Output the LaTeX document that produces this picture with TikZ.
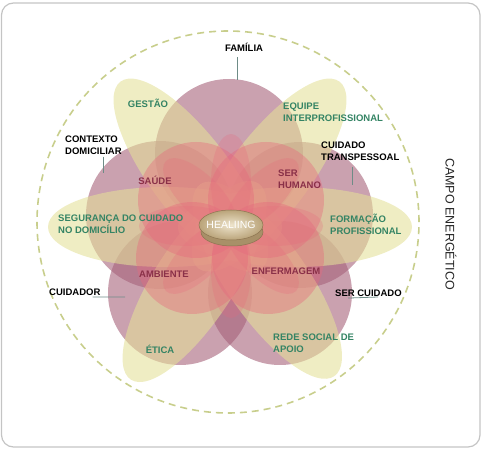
\documentclass[tikz,border=0pt]{standalone}
\usepackage{fontspec}
\setmainfont{Liberation Sans}
\usetikzlibrary{calc}
\definecolor{mauve}{RGB}{166,98,122}
\definecolor{petalY}{RGB}{228,224,152}
\definecolor{rose}{RGB}{230,105,125}
\definecolor{lblgreen}{RGB}{52,132,100}
\definecolor{lblmauve}{RGB}{138,48,72}
\definecolor{leadc}{RGB}{110,140,135}
\definecolor{dashc}{RGB}{200,206,140}
\definecolor{framec}{RGB}{196,196,196}
\definecolor{discA}{RGB}{238,228,204}
\definecolor{discB}{RGB}{186,164,122}
\definecolor{discC}{RGB}{168,144,104}
\definecolor{discE}{RGB}{140,116,80}
\begin{document}
\begin{tikzpicture}[x=1pt,y=1pt,
  bigcirc/.style={fill=mauve,fill opacity=0.6},
  petal/.style={fill=petalY,fill opacity=0.58},
  rosecirc/.style={fill=rose,fill opacity=0.4},
  rosepetal/.style={fill=rose,fill opacity=0.26},
  lbl/.style={font=\fontsize{9.5}{12}\selectfont\bfseries,inner sep=0pt,align=left},
  glbl/.style={lbl,text=lblgreen},
  mlbl/.style={lbl,text=lblmauve},
  klbl/.style={lbl,text=black},
  leader/.style={draw=leadc,line width=0.8pt}]
\useasboundingbox (0,0) rectangle (482,450);
\draw[framec,line width=1.2pt,rounded corners=12pt] (1.5,3) rectangle (480,447);
\draw[dashc,line width=1.6pt,dash pattern=on 7pt off 5pt] (228,228) circle[radius=191pt];
% big mauve circles
\fill[bigcirc] (229,297) circle[radius=74pt];
\fill[bigcirc] (160,235) circle[radius=74pt];
\fill[bigcirc] (300,235) circle[radius=73pt];
\fill[bigcirc] (180,157) circle[radius=72pt];
\fill[bigcirc] (280,157) circle[radius=72pt];
% yellow petals
\foreach \a in {127,53,180,0,237,305}{
  \fill[petal,shift={(230,223)},rotate=\a] (65,0) ellipse[x radius=117pt,y radius=40pt];
}
% rose circles
\fill[rosecirc] (196,250) circle[radius=58pt];
\fill[rosecirc] (266,250) circle[radius=58pt];
\fill[rosecirc] (192,192) circle[radius=56pt];
\fill[rosecirc] (268,192) circle[radius=56pt];
% rose petals
\foreach \a in {0,45,...,315}{
  \fill[rosepetal,shift={(231,224)},rotate=\a] (44,0) ellipse[x radius=48pt,y radius=20pt];
}
% healing disc
\fill[discC,draw=discE,line width=0.5pt] (232,218) ellipse[x radius=31pt,y radius=14pt];
\shade[inner color=discA,outer color=discB,draw=discE,line width=0.5pt] (231,225) ellipse[x radius=32pt,y radius=15pt];
\node (healing) at (231,225) {\fontsize{10.5}{12}\selectfont\textcolor{white}{HEALIING}};
% labels
\node[klbl] (familia) at (244,403) {FAMÍLIA};
\node[glbl] (gestao) at (148,347) {GESTÃO};
\node[glbl,anchor=west] (equipe) at (283,338) {EQUIPE\\INTERPROFISSIONAL};
\node[klbl,anchor=west] (contexto) at (65,305) {CONTEXTO\\DOMICILIAR};
\node[klbl,anchor=west] (transp) at (321,299) {CUIDADO\\TRANSPESSOAL};
\node[mlbl] (saude) at (155,270) {SAÚDE};
\node[mlbl,anchor=west] (serhumano) at (278,271) {SER\\HUMANO};
\node[glbl,anchor=west] (seguranca) at (58,226) {SEGURANÇA DO CUIDADO\\NO DOMICÍLIO};
\node[glbl,anchor=west] (formacao) at (330,226) {FORMAÇÃO\\PROFISSIONAL};
\node[mlbl] (ambiente) at (164,176) {AMBIENTE};
\node[mlbl] (enfermagem) at (286,179) {ENFERMAGEM};
\node[klbl,anchor=west] (cuidador) at (49,158) {CUIDADOR};
\node[klbl,anchor=west] (sercuidado) at (335,157) {SER CUIDADO};
\node[glbl] (etica) at (160,101) {ÉTICA};
\node[glbl,anchor=west] (rede) at (273,107) {REDE SOCIAL DE\\APOIO};
\node[rotate=-90,text=black!85,font=\fontsize{12.5}{14}\selectfont] (campo) at (451,226) {CAMPO ENERGÉTICO};
% leader lines
\coordinate (famend) at (237,370);
\coordinate (ctxend) at (103,277);
\coordinate (trend) at (352,265);
\coordinate (cdend) at (125,153);
\coordinate (scend) at (378,153);
\draw[leader] ($(famend|-familia.south)+(0,-6)$) -- (famend);
\draw[leader] ($(ctxend|-contexto.south)+(0,-2)$) -- (ctxend);
\draw[leader] ($(trend|-transp.south)+(0,-6)$) -- (trend);
\draw[leader] ($(cuidador.south east)+(-8,-1.5)$) -- (cdend);
\draw[leader] ($(sercuidado.south west)+(13,-1.5)$) -- (scend);
\end{tikzpicture}
\end{document}
